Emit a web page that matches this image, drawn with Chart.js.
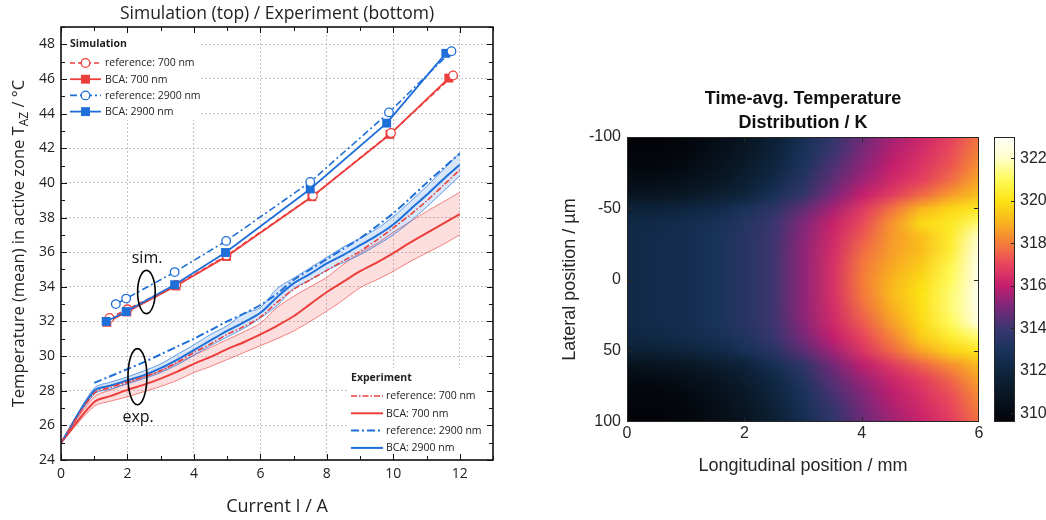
<!DOCTYPE html>
<html>
<head>
<meta charset="utf-8">
<title>Active zone temperature</title>
<script src="https://cdn.jsdelivr.net/npm/chart.js@4.4.1/dist/chart.umd.min.js"></script>
<style>
  html, body { margin: 0; padding: 0; background: #fff; }
  #wrap { position: relative; width: 1046px; height: 520px; }
  #lineChart { position: absolute; left: 0; top: 0; }
  #heatChart { position: absolute; left: 540px; top: 0; }
</style>
</head>
<body>
<div id="wrap">
  <canvas id="lineChart" width="540" height="520"></canvas>
  <canvas id="heatChart" width="506" height="520"></canvas>
</div>
<script>
// simulation points (current in A, temperature in °C)
const simRef700I  = [1.46, 2.0, 3.47, 4.98, 7.58, 9.93, 11.8];
const simRef700T  = [32.2, 32.7, 34.1, 35.8, 39.25, 42.88, 46.2];
const simBca700I  = [1.38, 1.98, 3.46, 4.98, 7.55, 9.9, 11.67];
const simBca700T  = [31.95, 32.55, 34.05, 35.75, 39.2, 42.8, 46.05];
const simRef2900I = [1.65, 1.96, 3.42, 4.97, 7.5, 9.87, 11.75];
const simRef2900T = [33.0, 33.32, 34.85, 36.65, 40.05, 44.07, 47.6];
const simBca2900I = [1.36, 1.96, 3.42, 4.95, 7.5, 9.8, 11.58];
const simBca2900T = [32.0, 32.57, 34.12, 35.98, 39.65, 43.45, 47.48];

// measured curves, all on the same current grid
const expCurrent   = [0, 1, 1.5, 2, 2.5, 3, 3.5, 4, 4.5, 5, 5.5, 6, 6.5, 7, 7.5, 8, 8.5, 9, 9.5, 10, 10.5, 11, 11.5, 12];
const expRef700    = [25.0, 27.85, 28.2, 28.5, 28.8, 29.15, 29.65, 30.2, 30.7, 31.25, 31.7, 32.25, 33.1, 33.85, 34.4, 34.95, 35.5, 36.05, 36.7, 37.4, 38.15, 38.95, 39.85, 40.75];
const expBca700    = [25.0, 27.35, 27.7, 28.05, 28.35, 28.7, 29.1, 29.55, 29.95, 30.4, 30.8, 31.25, 31.75, 32.3, 33.0, 33.7, 34.3, 34.9, 35.4, 35.95, 36.55, 37.1, 37.65, 38.2];
const expBca700Hi  = [25.0, 27.65, 28.05, 28.45, 28.8, 29.15, 29.6, 30.05, 30.5, 30.95, 31.4, 31.9, 32.8, 33.45, 34.0, 34.55, 35.3, 35.95, 36.5, 37.15, 37.75, 38.35, 38.9, 39.45];
const expBca700Lo  = [25.0, 27.1, 27.4, 27.65, 27.95, 28.25, 28.6, 29.05, 29.4, 29.8, 30.2, 30.6, 31.0, 31.45, 32.0, 32.6, 33.25, 33.95, 34.4, 34.9, 35.45, 35.95, 36.45, 37.0];
const expRef2900   = [null, 28.45, 28.85, 29.25, 29.65, 30.1, 30.55, 31.0, 31.5, 32.0, 32.45, 32.95, 33.6, 34.4, 35.0, 35.6, 36.2, 36.8, 37.5, 38.25, 39.1, 40.0, 40.85, 41.7];
const expBca2900   = [25.0, 28.0, 28.3, 28.6, 28.9, 29.3, 29.8, 30.35, 30.9, 31.45, 31.95, 32.5, 33.4, 34.2, 34.75, 35.35, 35.85, 36.4, 36.95, 37.6, 38.45, 39.3, 40.2, 41.05];
const expBca2900Hi = [25.0, 28.15, 28.5, 28.8, 29.15, 29.55, 30.1, 30.65, 31.25, 31.75, 32.45, 32.8, 33.9, 34.5, 35.1, 35.7, 36.3, 36.8, 37.35, 38.05, 38.9, 39.8, 40.75, 41.75];
const expBca2900Lo = [25.0, 27.8, 28.1, 28.4, 28.7, 29.05, 29.5, 30.05, 30.6, 31.1, 31.6, 32.2, 32.9, 33.9, 34.4, 34.95, 35.4, 35.85, 36.4, 37.0, 37.75, 38.6, 39.5, 40.4];

// time-averaged temperature field (K): rows = lateral position, columns = longitudinal position
const posLong = [0, 0.5, 1, 1.5, 2, 2.5, 3, 3.5, 4, 4.5, 5, 5.5, 6];
const posLat  = [-100, -90, -80, -70, -60, -50, -40, -30, -20, -10, 0, 10, 20, 30, 40, 50, 60, 70, 80, 90, 100];
const tempGrid = [
  [309.6, 309.6, 309.8, 310.2, 310.8, 311.6, 312.7, 313.8, 314.8, 315.6, 316.2, 316.9, 317.9],
  [309.7, 309.7, 309.9, 310.4, 311.0, 311.8, 312.9, 314.0, 315.0, 315.8, 316.4, 317.1, 318.1],
  [309.9, 309.9, 310.1, 310.6, 311.2, 312.0, 313.1, 314.3, 315.2, 316.0, 316.6, 317.3, 318.4],
  [310.2, 310.2, 310.5, 310.9, 311.5, 312.3, 313.4, 314.6, 315.5, 316.3, 316.9, 317.7, 318.8],
  [310.7, 310.8, 311.0, 311.4, 311.9, 312.8, 313.8, 315.0, 316.0, 316.8, 317.6, 318.5, 319.3],
  [311.7, 311.8, 312.0, 312.3, 312.9, 313.6, 314.6, 315.6, 316.7, 317.8, 319.0, 319.7, 320.2],
  [312.2, 312.3, 312.5, 312.8, 313.3, 314.0, 315.1, 316.1, 317.1, 318.4, 319.8, 320.2, 321.2],
  [312.3, 312.4, 312.6, 312.9, 313.4, 314.1, 315.2, 316.3, 317.4, 318.5, 319.2, 320.3, 322.2],
  [312.3, 312.4, 312.6, 312.9, 313.4, 314.1, 315.3, 316.4, 317.7, 318.6, 319.2, 320.5, 322.6],
  [312.3, 312.4, 312.6, 312.9, 313.4, 314.1, 315.3, 316.5, 317.9, 318.8, 319.5, 320.8, 322.8],
  [312.3, 312.4, 312.6, 312.9, 313.4, 314.1, 315.3, 316.5, 318.0, 319.0, 319.8, 321.0, 322.9],
  [312.3, 312.4, 312.6, 312.9, 313.4, 314.1, 315.3, 316.5, 317.9, 319.1, 320.0, 321.2, 322.9],
  [312.3, 312.4, 312.6, 312.9, 313.4, 314.1, 315.3, 316.4, 317.7, 318.9, 319.9, 321.2, 322.8],
  [312.3, 312.4, 312.6, 312.9, 313.4, 314.1, 315.2, 316.3, 317.4, 318.6, 319.8, 321.0, 322.6],
  [312.1, 312.2, 312.4, 312.7, 313.2, 313.9, 315.0, 316.0, 317.0, 318.1, 319.5, 320.4, 321.2],
  [311.6, 311.7, 311.9, 312.2, 312.8, 313.5, 314.5, 315.5, 316.6, 317.6, 318.7, 319.6, 320.1],
  [310.6, 310.7, 310.9, 311.3, 311.8, 312.7, 313.7, 314.9, 315.9, 316.7, 317.5, 318.3, 319.1],
  [310.1, 310.1, 310.4, 310.8, 311.4, 312.2, 313.3, 314.5, 315.4, 316.2, 316.8, 317.6, 318.7],
  [309.8, 309.8, 310.0, 310.5, 311.1, 311.9, 313.0, 314.2, 315.1, 315.9, 316.5, 317.2, 318.3],
  [309.7, 309.7, 309.9, 310.3, 310.9, 311.7, 312.8, 313.9, 314.9, 315.7, 316.3, 317.0, 318.0],
  [309.6, 309.6, 309.8, 310.2, 310.7, 311.5, 312.6, 313.7, 314.7, 315.5, 316.1, 316.8, 317.8]
];
const cbarTicks = [310, 312, 314, 316, 318, 320, 322];

const RED = '#ec3f3c';
const BLUE = '#1f6fd9';
const TXT = '#222';
const FONT = 'Open Sans';

function pts(xs, ys) {
  return xs.map((x, i) => ({ x: x, y: ys[i] }));
}

// ---------- left: current vs. temperature ----------
const simRef700 = {
  label: 'reference: 700 nm', data: pts(simRef700I, simRef700T), borderColor: RED, borderWidth: 1.6,
  borderDash: [5, 3], pointStyle: 'circle', pointRadius: 4.3, pointBorderWidth: 1.3,
  pointBackgroundColor: '#fff', pointBorderColor: RED, order: 3
};
const simBca700 = {
  label: 'BCA: 700 nm', data: pts(simBca700I, simBca700T), borderColor: RED, borderWidth: 1.8,
  pointStyle: 'rect', pointRadius: 6.3, pointBorderWidth: 0,
  pointBackgroundColor: RED, pointBorderColor: RED, order: 4
};
const simRef2900 = {
  label: 'reference: 2900 nm', data: pts(simRef2900I, simRef2900T), borderColor: BLUE, borderWidth: 1.6,
  borderDash: [7, 3, 2, 3], pointStyle: 'circle', pointRadius: 4.3, pointBorderWidth: 1.3,
  pointBackgroundColor: '#fff', pointBorderColor: BLUE, order: 1
};
const simBca2900 = {
  label: 'BCA: 2900 nm', data: pts(simBca2900I, simBca2900T), borderColor: BLUE, borderWidth: 1.8,
  pointStyle: 'rect', pointRadius: 6.3, pointBorderWidth: 0,
  pointBackgroundColor: BLUE, pointBorderColor: BLUE, order: 2
};

const expLine = { pointRadius: 0, tension: 0.3, fill: false };
const exRef700 = Object.assign({ label: 'reference: 700 nm', data: pts(expCurrent, expRef700), borderColor: RED, borderWidth: 1.6, borderDash: [6, 2, 1.5, 2], order: 12 }, expLine);
const exBca700 = Object.assign({ label: 'BCA: 700 nm', data: pts(expCurrent, expBca700), borderColor: RED, borderWidth: 2, order: 14 }, expLine);
const exRef2900 = Object.assign({ label: 'reference: 2900 nm', data: pts(expCurrent, expRef2900), borderColor: BLUE, borderWidth: 2, borderDash: [8, 3, 2, 3], order: 11 }, expLine);
const exBca2900 = Object.assign({ label: 'BCA: 2900 nm', data: pts(expCurrent, expBca2900), borderColor: BLUE, borderWidth: 2, order: 13 }, expLine);

const lineDatasets = [
  { data: pts(expCurrent, expBca700Hi), borderColor: 'rgba(236,63,60,0.8)', borderWidth: 0.8, pointRadius: 0, tension: 0.3,
    fill: '+1', backgroundColor: 'rgba(240,90,90,0.2)', order: 20 },
  { data: pts(expCurrent, expBca700Lo), borderColor: 'rgba(236,63,60,0.8)', borderWidth: 0.8, pointRadius: 0, tension: 0.3, fill: false, order: 20 },
  { data: pts(expCurrent, expBca2900Hi), borderColor: 'rgba(31,111,217,0.85)', borderWidth: 0.8, pointRadius: 0, tension: 0.3,
    fill: '+1', backgroundColor: 'rgba(60,130,225,0.2)', order: 19 },
  { data: pts(expCurrent, expBca2900Lo), borderColor: 'rgba(31,111,217,0.85)', borderWidth: 0.8, pointRadius: 0, tension: 0.3, fill: false, order: 19 },
  exBca700, exRef700, exBca2900, exRef2900,
  simBca700, simRef700, simBca2900, simRef2900
];

const notes = [
  { text: 'sim.', cx: 2.57, cy: 33.7, rx: 0.265, ry: 1.25, tx: 2.59, ty: 35.63 },
  { text: 'exp.', cx: 2.30, cy: 28.81, rx: 0.285, ry: 1.62, tx: 2.32, ty: 26.44 }
];

function sampleRow(ctx, ds, x0, x1, y, withMarker) {
  ctx.save();
  ctx.strokeStyle = ds.borderColor;
  ctx.lineWidth = ds.borderWidth;
  ctx.setLineDash(ds.borderDash || []);
  ctx.beginPath();
  ctx.moveTo(x0, y);
  ctx.lineTo(x1, y);
  ctx.stroke();
  ctx.setLineDash([]);
  if (withMarker) {
    const cx = (x0 + x1) / 2;
    if (ds.pointStyle === 'rect') {
      const h = ds.pointRadius * Math.SQRT1_2;
      ctx.fillStyle = ds.pointBackgroundColor;
      ctx.fillRect(cx - h, y - h, 2 * h, 2 * h);
    } else {
      ctx.beginPath();
      ctx.arc(cx, y, ds.pointRadius, 0, Math.PI * 2);
      ctx.fillStyle = ds.pointBackgroundColor;
      ctx.fill();
      ctx.lineWidth = ds.pointBorderWidth;
      ctx.strokeStyle = ds.pointBorderColor;
      ctx.stroke();
    }
  }
  ctx.restore();
}

const lineDecor = {
  id: 'lineDecor',
  beforeDatasetsDraw(chart) {
    // white boxes behind the two legends
    const ctx = chart.ctx;
    ctx.save();
    ctx.fillStyle = '#fff';
    ctx.fillRect(62, 28, 137, 92);
    ctx.fillRect(347, 368, 145, 91);
    ctx.restore();
  },
  afterDatasetsDraw(chart) {
    const { ctx, chartArea: a, scales: { x, y } } = chart;
    ctx.save();

    // ellipses around the curve groups
    ctx.strokeStyle = '#000';
    ctx.fillStyle = '#111';
    ctx.lineWidth = 1.6;
    ctx.font = '16px "' + FONT + '"';
    ctx.textAlign = 'center';
    ctx.textBaseline = 'middle';
    notes.forEach(n => {
      const cx = x.getPixelForValue(n.cx), cy = y.getPixelForValue(n.cy);
      const rx = Math.abs(x.getPixelForValue(n.cx + n.rx) - cx);
      const ry = Math.abs(y.getPixelForValue(n.cy + n.ry) - cy);
      ctx.beginPath();
      ctx.ellipse(cx, cy, rx, ry, 0, 0, Math.PI * 2);
      ctx.stroke();
      ctx.fillText(n.text, x.getPixelForValue(n.tx), y.getPixelForValue(n.ty));
    });

    // legends
    ctx.textAlign = 'left';
    ctx.fillStyle = TXT;
    ctx.font = 'bold 10.5px "' + FONT + '"';
    ctx.fillText('Simulation', 70, 44);
    ctx.fillText('Experiment', 351, 378);
    ctx.font = '10.5px "' + FONT + '"';
    [simRef700, simBca700, simRef2900, simBca2900].forEach((ds, i) => {
      const yy = 63 + i * 16.2;
      sampleRow(ctx, ds, 70, 101, yy, true);
      ctx.fillText(ds.label, 105, yy + 0.5);
    });
    [exRef700, exBca700, exRef2900, exBca2900].forEach((ds, i) => {
      const yy = 396 + i * 17.3;
      sampleRow(ctx, ds, 351, 383, yy, false);
      ctx.fillText(ds.label, 386, yy + 0.5);
    });

    // frame with inward ticks on all sides
    ctx.strokeStyle = '#111';
    ctx.lineWidth = 1;
    ctx.beginPath();
    for (let v = 0; v <= 13; v++) {
      const px = Math.round(x.getPixelForValue(v)) + 0.5;
      const len = v % 2 === 0 ? 6 : 4;
      ctx.moveTo(px, a.bottom); ctx.lineTo(px, a.bottom - len);
      ctx.moveTo(px, a.top); ctx.lineTo(px, a.top + len);
    }
    for (let v = 24; v <= 49; v++) {
      const py = Math.round(y.getPixelForValue(v)) + 0.5;
      const len = v % 2 === 0 ? 6 : 4;
      ctx.moveTo(a.left, py); ctx.lineTo(a.left + len, py);
      ctx.moveTo(a.right, py); ctx.lineTo(a.right - len, py);
    }
    ctx.stroke();
    ctx.lineWidth = 1.6;
    ctx.strokeRect(a.left, a.top, a.right - a.left, a.bottom - a.top);

    // y title with subscript
    const main = 'Temperature (mean) in active zone T', sub = 'AZ', tail = ' / °C';
    const big = '16.5px "' + FONT + '"', small = '12px "' + FONT + '"';
    ctx.fillStyle = TXT;
    ctx.font = big;
    const w1 = ctx.measureText(main).width, w3 = ctx.measureText(tail).width;
    ctx.font = small;
    const w2 = ctx.measureText(sub).width;
    const total = w1 + w2 + w3;
    ctx.translate(18, (a.top + a.bottom) / 2);
    ctx.rotate(-Math.PI / 2);
    ctx.textBaseline = 'alphabetic';
    let sx = -total / 2;
    ctx.font = big;
    ctx.fillText(main, sx, 6);
    sx += w1;
    ctx.font = small;
    ctx.fillText(sub, sx, 10);
    sx += w2;
    ctx.font = big;
    ctx.fillText(tail, sx, 6);
    ctx.restore();

    // title over the plot area
    ctx.save();
    ctx.fillStyle = TXT;
    ctx.font = '17.5px "' + FONT + '"';
    ctx.textAlign = 'center';
    ctx.textBaseline = 'middle';
    ctx.fillText('Simulation (top) / Experiment (bottom)', (a.left + a.right) / 2, 14);
    ctx.restore();
  }
};

new Chart(document.getElementById('lineChart'), {
  type: 'line',
  data: { datasets: lineDatasets },
  options: {
    responsive: false,
    animation: false,
    devicePixelRatio: 1,
    layout: { padding: { top: 27, right: 47, left: 0, bottom: 0 } },
    plugins: { legend: { display: false }, tooltip: { enabled: false }, title: { display: false } },
    scales: {
      x: {
        type: 'linear', min: 0, max: 13,
        ticks: { stepSize: 2, includeBounds: false, padding: 6, maxRotation: 0, color: TXT, font: { family: FONT, size: 14 } },
        grid: { color: '#c2c2c2', lineWidth: 1, drawTicks: false },
        border: { display: false, dash: [2, 2] },
        title: { display: true, text: 'Current I / A', color: TXT, font: { family: FONT, size: 18 }, padding: { top: 0, bottom: 2 } },
        afterFit(s) { s.height = 60; }
      },
      y: {
        type: 'linear', min: 24, max: 49,
        ticks: { stepSize: 2, includeBounds: false, padding: 6, color: TXT, font: { family: FONT, size: 14 } },
        grid: { color: '#c2c2c2', lineWidth: 1, drawTicks: false },
        border: { display: false, dash: [2, 2] },
        afterFit(s) { s.width = 61; }
      }
    }
  },
  plugins: [lineDecor]
});

// ---------- right: temperature map ----------
const cmapStops = [
  [309.6, [3, 4, 8]],
  [311.0, [10, 24, 38]],
  [312.0, [14, 38, 63]],
  [313.0, [26, 52, 92]],
  [314.0, [58, 54, 112]],
  [315.0, [122, 40, 122]],
  [316.0, [196, 30, 110]],
  [317.0, [232, 68, 94]],
  [318.0, [245, 125, 58]],
  [319.0, [249, 180, 30]],
  [320.0, [253, 228, 20]],
  [321.0, [255, 250, 90]],
  [322.0, [255, 255, 200]],
  [323.0, [255, 255, 250]]
];

function colorOf(t) {
  if (t <= cmapStops[0][0]) return cmapStops[0][1];
  for (let k = 1; k < cmapStops.length; k++) {
    const [t1, c1] = cmapStops[k];
    if (t <= t1) {
      const [t0, c0] = cmapStops[k - 1];
      const f = (t - t0) / (t1 - t0);
      return [0, 1, 2].map(n => Math.round(c0[n] + f * (c1[n] - c0[n])));
    }
  }
  return cmapStops[cmapStops.length - 1][1];
}

const heatPoints = [];
posLat.forEach((yv, j) => posLong.forEach((xv, i) => heatPoints.push({ x: xv, y: yv, t: tempGrid[j][i] })));

const heatLayer = {
  id: 'heatLayer',
  beforeDatasetsDraw(chart) {
    const { ctx, chartArea: a, scales: { x, y } } = chart;
    const nx = posLong.length, ny = posLat.length;
    const off = document.createElement('canvas');
    off.width = nx;
    off.height = ny;
    const octx = off.getContext('2d');
    const img = octx.createImageData(nx, ny);
    chart.data.datasets[0].data.forEach((p, k) => {
      const c = colorOf(p.t);
      img.data[k * 4] = c[0];
      img.data[k * 4 + 1] = c[1];
      img.data[k * 4 + 2] = c[2];
      img.data[k * 4 + 3] = 255;
    });
    octx.putImageData(img, 0, 0);
    const hx = (posLong[1] - posLong[0]) / 2, hy = (posLat[1] - posLat[0]) / 2;
    const x0 = x.getPixelForValue(posLong[0] - hx), x1 = x.getPixelForValue(posLong[nx - 1] + hx);
    const y0 = y.getPixelForValue(posLat[0] - hy), y1 = y.getPixelForValue(posLat[ny - 1] + hy);
    ctx.save();
    ctx.beginPath();
    ctx.rect(a.left, a.top, a.right - a.left, a.bottom - a.top);
    ctx.clip();
    ctx.imageSmoothingEnabled = true;
    ctx.imageSmoothingQuality = 'low';
    ctx.drawImage(off, x0, y0, x1 - x0, y1 - y0);
    ctx.restore();
  },
  afterDatasetsDraw(chart) {
    const { ctx, chartArea: a, scales: { x, y, cb } } = chart;
    ctx.save();
    ctx.strokeStyle = '#262626';
    ctx.lineWidth = 1;
    ctx.beginPath();
    [2, 4].forEach(v => {
      const px = Math.round(x.getPixelForValue(v)) + 0.5;
      ctx.moveTo(px, a.top); ctx.lineTo(px, a.top + 5);
      ctx.moveTo(px, a.bottom); ctx.lineTo(px, a.bottom - 5);
    });
    [-50, 0, 50].forEach(v => {
      const py = Math.round(y.getPixelForValue(v)) + 0.5;
      ctx.moveTo(a.left, py); ctx.lineTo(a.left + 5, py);
      ctx.moveTo(a.right, py); ctx.lineTo(a.right - 5, py);
    });
    ctx.stroke();
    ctx.strokeRect(a.left + 0.5, a.top + 0.5, a.right - a.left - 1, a.bottom - a.top - 1);

    // colour bar next to the map
    const bx0 = cb.left + 15, bx1 = cb.left + 36;
    const top = Math.round(cb.getPixelForValue(cb.max)), bottom = Math.round(cb.getPixelForValue(cb.min));
    for (let py = top; py < bottom; py++) {
      const c = colorOf(cb.getValueForPixel(py + 0.5));
      ctx.fillStyle = 'rgb(' + c[0] + ',' + c[1] + ',' + c[2] + ')';
      ctx.fillRect(bx0, py, bx1 - bx0, 1);
    }
    ctx.beginPath();
    cbarTicks.forEach(v => {
      const py = Math.round(cb.getPixelForValue(v)) + 0.5;
      ctx.moveTo(bx1, py); ctx.lineTo(bx1 - 4, py);
    });
    ctx.stroke();
    ctx.strokeRect(bx0 + 0.5, top + 0.5, bx1 - bx0 - 1, bottom - top - 1);

    // two-line bold title centred over the map
    ctx.fillStyle = '#111';
    ctx.font = 'bold 18px "Liberation Sans"';
    ctx.textAlign = 'center';
    ctx.textBaseline = 'middle';
    const mid = (a.left + a.right) / 2;
    ctx.fillText('Time-avg. Temperature', mid, 99);
    ctx.fillText('Distribution / K', mid, 123);
    ctx.restore();
  }
};

const MAPTXT = '#262626';
new Chart(document.getElementById('heatChart'), {
  type: 'scatter',
  data: { datasets: [{ data: heatPoints, pointRadius: 0, pointHoverRadius: 0 }] },
  options: {
    responsive: false,
    animation: false,
    devicePixelRatio: 1,
    layout: { padding: { top: 137, bottom: 40, left: 0, right: 0 } },
    plugins: { legend: { display: false }, tooltip: { enabled: false } },
    scales: {
      x: {
        type: 'linear', min: 0, max: 6,
        ticks: { stepSize: 2, padding: 2, maxRotation: 0, color: MAPTXT, font: { family: 'Liberation Sans', size: 16 } },
        grid: { display: false, drawTicks: false },
        border: { display: false },
        title: { display: true, text: 'Longitudinal position / mm', color: MAPTXT, font: { family: 'Liberation Sans', size: 18 }, padding: { top: 0, bottom: 3 } },
        afterFit(s) { s.height = 58; }
      },
      y: {
        type: 'linear', reverse: true, min: -100, max: 100,
        ticks: { stepSize: 50, padding: 6, color: MAPTXT, font: { family: 'Liberation Sans', size: 16 } },
        grid: { display: false, drawTicks: false },
        border: { display: false },
        title: { display: true, text: 'Lateral position / µm', color: MAPTXT, font: { family: 'Liberation Sans', size: 18 }, padding: { top: 19, bottom: 0 } },
        afterFit(s) { s.width = 87; }
      },
      cb: {
        type: 'linear', position: 'right', min: 309.6, max: 323,
        ticks: { stepSize: 2, includeBounds: false, padding: 41, color: MAPTXT, font: { family: 'Liberation Sans', size: 16 } },
        grid: { display: false, drawTicks: false },
        border: { display: false },
        afterFit(s) { s.width = 67; }
      }
    }
  },
  plugins: [heatLayer]
});
</script>
</body>
</html>
